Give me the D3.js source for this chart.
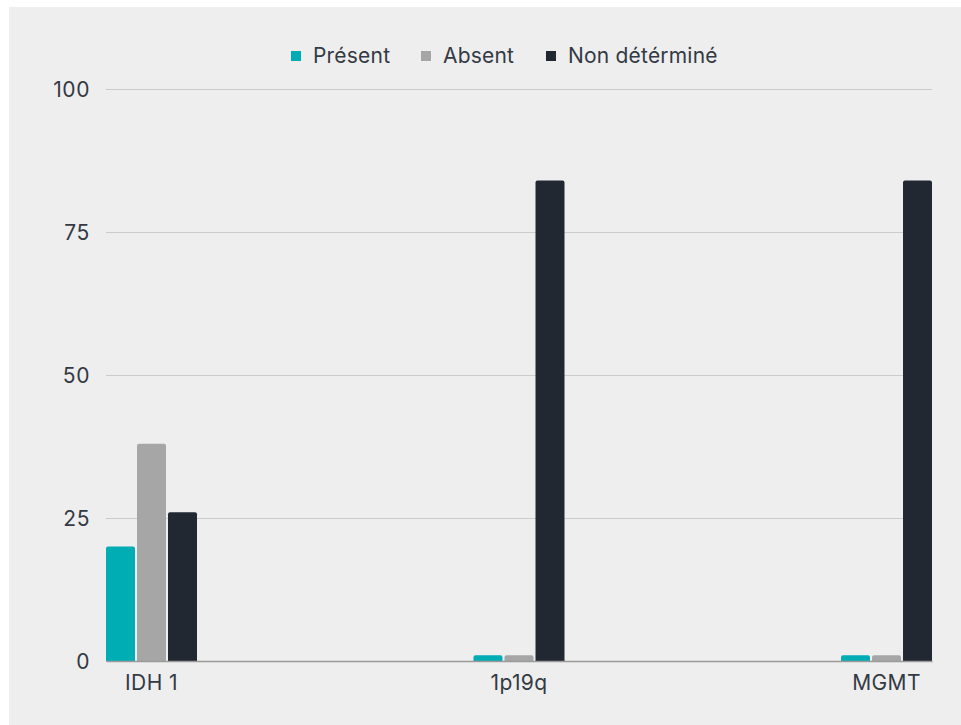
<!DOCTYPE html>
<html><head><meta charset="utf-8">
<script src="https://cdn.jsdelivr.net/npm/d3@7"></script>
<style>
html,body{margin:0;padding:0;background:#ffffff;}
svg{display:block;}
text{font-family:"Inter","Open Sans",sans-serif;}
</style></head>
<body>
<script>
const categories = ["IDH 1", "1p19q", "MGMT"];
const seriesNames = ["Présent", "Absent", "Non détérminé"];
const presentValues = [20, 1, 1];
const absentValues = [38, 1, 1];
const undeterminedValues = [26, 84, 84];
const yTicks = [0, 25, 50, 75, 100];
const colors = ["#00adb5", "#a6a6a6", "#222831"];

const W = 961, H = 725;
const svg = d3.select("body").append("svg").attr("width", W).attr("height", H);
svg.append("rect").attr("x", 9).attr("y", 7).attr("width", W - 9).attr("height", H - 7).attr("fill", "#eeeeee");

const m = {left: 106, right: 932, top: 89, bottom: 661};
const seriesValues = [presentValues, absentValues, undeterminedValues];
const data = categories.map((c, i) => ({cat: c, vals: seriesValues.map((s, j) => ({k: j, v: s[i]}))}));

const x0 = d3.scaleBand().domain(categories).range([m.left, m.right]).paddingInner(0.7524).paddingOuter(0);
const x1 = d3.scaleBand().domain([0, 1, 2]).range([0, x0.bandwidth()]).paddingInner(0.065).paddingOuter(0);
const y = d3.scaleLinear().domain([0, 100]).range([m.bottom, m.top]);

// grid
const yAxis = d3.axisLeft(y).tickValues(yTicks).tickSize(-(m.right - m.left)).tickPadding(16);
const gy = svg.append("g").attr("transform", `translate(${m.left},0)`).call(yAxis);
gy.select(".domain").remove();
gy.selectAll(".tick line").attr("stroke", "#cccccc").attr("stroke-width", 1);
gy.selectAll(".tick text").attr("fill", "#333a44").style("font-size", "21px").style("letter-spacing", "0.6px").attr("dy", "0.35em");

// bars
const groups = svg.append("g").selectAll("g").data(data).join("g")
  .attr("transform", d => `translate(${x0(d.cat)},0)`);
groups.selectAll("path").data(d => d.vals).join("path")
  .attr("fill", d => colors[d.k])
  .attr("d", d => {
    const x = x1(d.k), w = x1.bandwidth(), yt = y(d.v), yb = y(0), r = Math.min(2, (yb - yt) / 2);
    return `M${x},${yb}V${yt + r}Q${x},${yt} ${x + r},${yt}H${x + w - r}Q${x + w},${yt} ${x + w},${yt + r}V${yb}Z`;
  });

// baseline
const xAxis = d3.axisBottom(x0).tickSize(0).tickPadding(14);
const gx = svg.append("g").attr("transform", `translate(0,${m.bottom})`).call(xAxis);
gx.select(".domain").attr("stroke", "#9a9a9a").attr("stroke-width", 1.5);
gx.selectAll(".tick text").attr("fill", "#333a44").style("font-size", "21px").style("letter-spacing", "0.4px");

// legend
const legendItems = [{x: 291, tx: 313}, {x: 421, tx: 443}, {x: 546, tx: 568}];
const lg = svg.append("g");
seriesNames.forEach((n, i) => {
  lg.append("rect").attr("x", legendItems[i].x).attr("y", 51).attr("width", 10).attr("height", 10).attr("fill", colors[i]);
  lg.append("text").attr("x", legendItems[i].tx).attr("y", 56).attr("dy", "0.35em")
    .attr("fill", "#333a44").style("font-size", "21px").style("letter-spacing", "0.2px").text(n);
});
</script>
</body></html>
